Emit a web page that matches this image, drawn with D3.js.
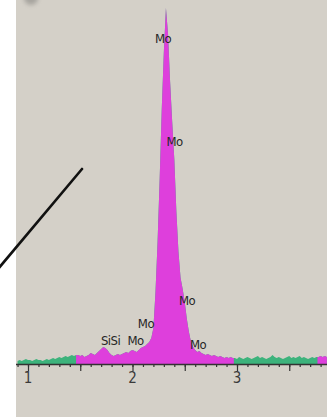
<!DOCTYPE html>
<html>
<head>
<meta charset="utf-8">
<script src="https://cdn.jsdelivr.net/npm/d3@7"></script>
<style>
  body { margin: 0; background: #fff; }
  svg { display: block; }
</style>
</head>
<body>
<svg id="drawing_region"></svg>
<script>
// spectrum channels, 0.02 keV wide, starting at 0.90 keV
const startKeV = 0.90;
const stepKeV = 0.02;
const counts = [
  3, 4, 3, 4, 5, 4, 4, 3, 4, 5,
  4, 4, 3, 4, 5, 4, 5, 6, 5, 6,
  7, 6, 7, 8, 7, 8, 9, 8, 9, 9,
  8, 9, 7, 8, 9, 11, 10, 9, 11, 13,
  15, 17, 16, 14, 11, 9, 8, 9, 10, 9,
  10, 11, 12, 11, 13, 14, 13, 12, 14, 16,
  17, 18, 20, 22, 26, 36, 72, 122, 185, 255,
  312, 356, 330, 282, 242, 205, 152, 112, 86, 75,
  62, 45, 32, 22, 17, 14, 12, 13, 11, 10,
  9, 10, 9, 8, 9, 8, 7, 8, 7, 6,
  7, 6, 7, 6, 6, 5, 7, 6, 5, 6,
  7, 6, 5, 6, 7, 8, 6, 7, 6, 5,
  6, 7, 9, 7, 6, 7, 6, 5, 6, 7,
  8, 6, 7, 6, 7, 8, 6, 7, 6, 5,
  6, 7, 6, 7, 7, 8, 7, 8, 7
];

// energy windows that the software coloured as element regions (keV)
const roiStart = [1.46, 3.77];
const roiEnd = [2.97, 3.90];

// peak identification labels
const peakNames = ["Mo", "Mo", "Mo", "Mo", "SiSi", "Mo", "Mo"];
const peakKeV = [2.292, 2.402, 2.522, 2.129, 1.790, 2.030, 2.627];
const peakCount = [326, 223, 64, 41, 24, 24, 20];

const axisLabels = [1, 2, 3];

const W = 327, H = 417;
const plotLeft = 16, axisY = 364;

const svg = d3.select('#drawing_region')
    .attr('width', W)
    .attr('height', H);

// grey panel
svg.append('rect')
    .attr('x', plotLeft).attr('y', 0)
    .attr('width', W - plotLeft).attr('height', H)
    .attr('fill', '#d4d0c8');

svg.append('circle')
    .attr('cx', 31).attr('cy', -2).attr('r', 7)
    .attr('fill', '#8a8884').attr('opacity', 0.6)
    .style('filter', 'blur(2px)');

const xscale = d3.scaleLinear()
    .domain([1, 3])
    .range([28, 237]);

const yscale = d3.scaleLinear()
    .domain([0, 360])
    .range([axisY, 4]);

const data = counts.map((c, i) => ({ e: startKeV + i * stepKeV, c: c }));

const area = d3.area()
    .x(d => xscale(d.e))
    .y0(yscale(0))
    .y1(d => yscale(d.c));

const defs = svg.append('defs');
const clip = defs.append('clipPath').attr('id', 'roi');
roiStart.forEach((s, i) => {
    clip.append('rect')
        .attr('x', xscale(s))
        .attr('y', 0)
        .attr('width', xscale(roiEnd[i]) - xscale(s))
        .attr('height', H);
});

const chart = svg.append('g');

chart.append('path')
    .datum(data)
    .attr('d', area)
    .attr('fill', '#3db37c');

chart.append('path')
    .datum(data)
    .attr('d', area)
    .attr('fill', '#de3fdc')
    .attr('clip-path', 'url(#roi)');

// axis
const minorAxis = d3.axisBottom(xscale)
    .tickValues(d3.range(9, 39).map(v => v / 10))
    .tickSize(3)
    .tickFormat('');
const majorAxis = d3.axisBottom(xscale)
    .tickValues([1, 1.5, 2, 2.5, 3, 3.5])
    .tickSize(7)
    .tickFormat('');

const ag1 = svg.append('g').attr('transform', `translate(0, ${axisY})`).call(minorAxis);
const ag2 = svg.append('g').attr('transform', `translate(0, ${axisY})`).call(majorAxis);
[ag1, ag2].forEach(g => {
    g.select('.domain').remove();
    g.selectAll('line').attr('stroke', '#333').attr('stroke-width', 1.2);
});

svg.append('line')
    .attr('x1', plotLeft).attr('x2', W)
    .attr('y1', axisY + 0.5).attr('y2', axisY + 0.5)
    .attr('stroke', '#333').attr('stroke-width', 1.5);

svg.selectAll('text.xl')
    .data(axisLabels)
    .join('text')
    .attr('class', 'xl')
    .attr('x', d => xscale(d))
    .attr('y', axisY + 19)
    .attr('text-anchor', 'middle')
    .attr('font-family', 'DejaVu Sans Condensed, sans-serif')
    .attr('font-size', '15px')
    .attr('fill', '#3a3a3a')
    .text(d => d);

// peak labels
svg.selectAll('text.pk')
    .data(peakNames)
    .join('text')
    .attr('class', 'pk')
    .attr('x', (d, i) => xscale(peakKeV[i]))
    .attr('y', (d, i) => yscale(peakCount[i]))
    .attr('dy', '0.35em')
    .attr('text-anchor', 'middle')
    .attr('font-family', 'DejaVu Sans Condensed, sans-serif')
    .attr('font-size', '13px')
    .attr('letter-spacing', '-0.5px')
    .attr('fill', '#262626')
    .text(d => d);

// pointer line drawn over the image
svg.append('line')
    .attr('x1', 82).attr('y1', 169)
    .attr('x2', -2).attr('y2', 269)
    .attr('stroke', '#111')
    .attr('stroke-width', 2.6)
    .attr('stroke-linecap', 'round');
</script>
</body>
</html>
